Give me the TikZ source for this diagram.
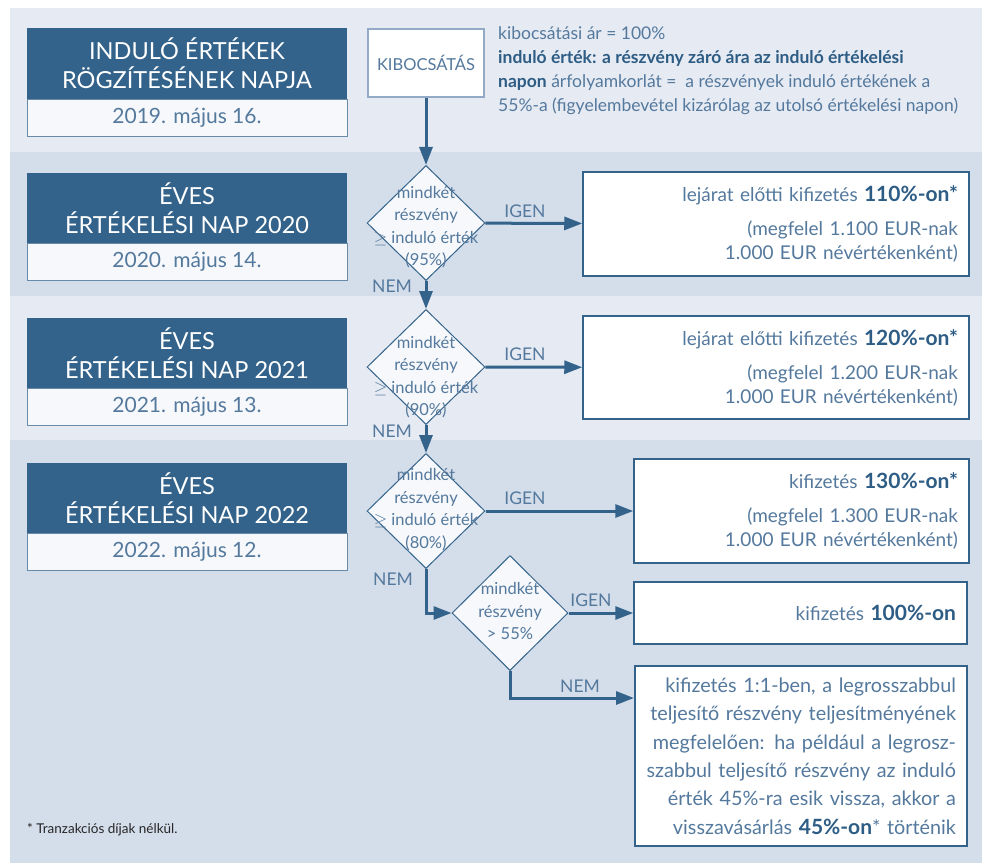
\documentclass[tikz,border=0pt]{standalone}
\usepackage{fontspec}
\setmainfont{Lato}
\usepackage{tikz}
\usetikzlibrary{shapes.geometric,arrows.meta}
\definecolor{navy}{HTML}{33638A}
\definecolor{txt}{HTML}{54799D}
\definecolor{bold}{HTML}{2D5C84}
\definecolor{bandA}{HTML}{E6EAF3}
\definecolor{bandB}{HTML}{D4DDEA}
\definecolor{pale}{HTML}{F6F8FB}
\definecolor{kibline}{HTML}{93AAC6}
\newcommand{\amount}[1]{{\fontsize{21}{24}\selectfont\bfseries\color{bold}#1}}

\begin{document}
\begin{tikzpicture}[x=1pt,y=-1pt,
  head/.style={minimum width=320pt, minimum height=71pt, inner sep=0pt, fill=navy, text=white, align=center, font=\fontsize{23.5}{29}\selectfont},
  datum/.style={minimum width=320pt, minimum height=37pt, inner sep=0pt, fill=pale, draw=navy!75, line width=1pt, text=txt, font=\fontsize{21}{24}\selectfont},
  decision/.style={diamond, draw=navy, line width=1pt, fill=pale, minimum width=118pt, minimum height=115pt, inner sep=0pt},
  dtxt/.style={text=txt, align=center, inner sep=0pt, font=\fontsize{16.5}{22.5}\selectfont},
  res/.style={draw=navy, line width=1.5pt, fill=white, inner xsep=11pt, inner ysep=0pt, align=right, text=txt, font=\fontsize{19}{24}\selectfont},
  lbl/.style={text=txt, inner sep=0pt, font=\fontsize{17.5}{20}\selectfont},
  arr/.style={draw=navy, line width=3pt, -{Triangle[length=18pt,width=13pt]}}]
\useasboundingbox (0,0) rectangle (986,863);
\fill[bandA] (10,8) rectangle (982,152);
\fill[bandB] (10,152) rectangle (982,296);
\fill[bandA] (10,296) rectangle (982,440);
\fill[bandB] (10,440) rectangle (982,863);

\node[head] (h0) at (187,63.5) {INDULÓ ÉRTÉKEK\\RÖGZÍTÉSÉNEK NAPJA};
\node[datum] (t0) at (187,117.5) {2019. május 16.};
\node[head] (h1) at (187,208) {ÉVES\\ÉRTÉKELÉSI NAP 2020};
\node[datum] (t1) at (187,262) {2020. május 14.};
\node[head] (h2) at (187,353) {ÉVES\\ÉRTÉKELÉSI NAP 2021};
\node[datum] (t2) at (187,407) {2021. május 13.};
\node[head] (h3) at (187,498) {ÉVES\\ÉRTÉKELÉSI NAP 2022};
\node[datum] (t3) at (187,552) {2022. május 12.};

\node[draw=kibline, line width=2pt, fill=white, minimum width=116pt, minimum height=68pt, text=txt, font=\fontsize{16.5}{20}\selectfont] (kib) at (426,63) {KIBOCSÁTÁS};
\node[anchor=north west, inner sep=0pt, align=left, text=txt, font=\fontsize{17.5}{24}\selectfont] (info) at (498,26)
  {kibocsátási ár = 100\%\\
   \textbf{\color{bold}induló érték: a részvény záró ára az induló értékelési}\\
   \textbf{\color{bold}napon} árfolyamkorlát = \ a részvények induló értékének a\\
   55\%-a (figyelembevétel kizárólag az utolsó értékelési napon)};

\node[decision] (d1) at (426,223) {};
\node[dtxt] (d1t) at (426,227) {mindkét\\részvény\\$\geq$ induló érték\\(95\%)};
\node[decision] (d2) at (426,367) {};
\node[dtxt] (d2t) at (426,377) {mindkét\\részvény\\$\geq$ induló érték\\(90\%)};
\node[decision] (d3) at (426,511) {};
\node[dtxt] (d3t) at (426,509.5) {mindkét\\részvény\\$\geq$ induló érték\\(80\%)};
\node[decision, minimum width=116pt] (d4) at (510,613) {};
\node[dtxt] (d4t) at (510,611) {mindkét\\részvény\\> 55\%};

\node[res, minimum height=104pt, text width=364pt] (r1) at (776,224)
  {lejárat előtti kifizetés \amount{110\%-on*}\\[10pt] (megfelel 1.100 EUR-nak\\ 1.000 EUR névértékenként)};
\node[res, minimum height=103pt, text width=364pt] (r2) at (776,367.5)
  {lejárat előtti kifizetés \amount{120\%-on*}\\[10pt] (megfelel 1.200 EUR-nak\\ 1.000 EUR névértékenként)};
\node[res, minimum height=104pt, text width=313pt] (r3) at (801.5,511)
  {kifizetés \amount{130\%-on*}\\[10pt] (megfelel 1.300 EUR-nak\\ 1.000 EUR névértékenként)};
\node[res, minimum height=62pt, text width=311pt] (r4) at (800.5,613)
  {kifizetés \amount{100\%-on}};
\node[res, minimum height=180pt, text width=310pt, font=\fontsize{19.8}{28.4}\selectfont] (r5) at (801,756)
  {kifizetés 1:1-ben, a legrosszabbul\\ teljesítő részvény teljesítményének\\ megfelelően: ha például a legrosz-\\ szabbul teljesítő részvény az induló\\ érték 45\%-ra esik vissza, akkor a\\ visszavásárlás \amount{45\%-on}* történik};
\coordinate (r5in) at (634,698);

\draw[arr] (kib) -- (d1);
\draw[arr] (d1) -- (d2);
\draw[arr] (d2) -- (d3);
\draw[arr] (d1) -- (r1);
\draw[arr] (d2) -- (r2);
\draw[arr] (d3) -- (r3);
\draw[arr] (d3.south) |- (d4.west);
\draw[arr] (d4) -- (r4);
\draw[arr] (d4.south) |- (r5in);

\node[lbl] (y1) at (525,211) {IGEN};
\node[lbl] (y2) at (525,354) {IGEN};
\node[lbl] (y3) at (525,498) {IGEN};
\node[lbl] (y4) at (591,600) {IGEN};
\node[lbl] (n1) at (392,286) {NEM};
\node[lbl] (n2) at (392,431) {NEM};
\node[lbl] (n3) at (393,579) {NEM};
\node[lbl] (n4) at (580,686) {NEM};

\node[anchor=west, inner sep=0pt, text=black!85, font=\fontsize{13.5}{16}\selectfont] (fn) at (27,830) {* Tranzakciós díjak nélkül.};
\end{tikzpicture}
\end{document}
